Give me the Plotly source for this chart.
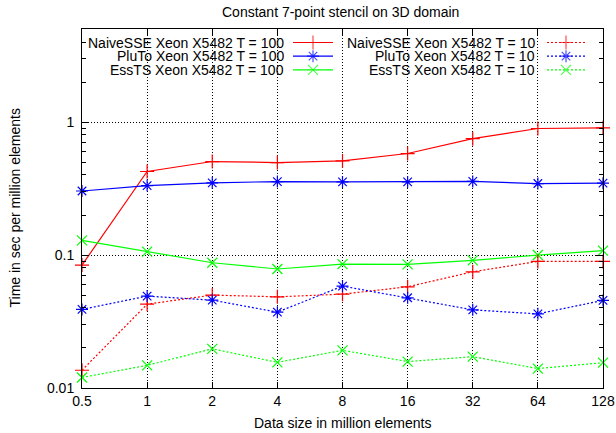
import plotly.graph_objects as go

sizes = ["0.5", "1", "2", "4", "8", "16", "32", "64", "128"]

naive_t100 = [0.084, 0.425, 0.505, 0.496, 0.51, 0.58, 0.75, 0.895, 0.905]
pluto_t100 = [0.303, 0.333, 0.349, 0.357, 0.355, 0.355, 0.358, 0.345, 0.347]
essts_t100 = [0.129, 0.106, 0.0875, 0.0785, 0.0855, 0.085, 0.0912, 0.100, 0.108]
naive_t10 = [0.0136, 0.0427, 0.050, 0.0485, 0.0508, 0.0577, 0.0748, 0.0896, 0.0896]
pluto_t10 = [0.039, 0.0491, 0.0458, 0.0372, 0.0584, 0.0477, 0.0387, 0.0361, 0.0456]
essts_t10 = [0.012, 0.0148, 0.0197, 0.0156, 0.0192, 0.0158, 0.0172, 0.0140, 0.0155]

names = [
    "NaiveSSE Xeon X5482 T = 100", "PluTo Xeon X5482 T = 100", "EssTS Xeon X5482 T = 100",
    "NaiveSSE Xeon X5482 T = 10", "PluTo Xeon X5482 T = 10", "EssTS Xeon X5482 T = 10",
]
series = [naive_t100, pluto_t100, essts_t100, naive_t10, pluto_t10, essts_t10]
colors = ["#ff0000", "#0000ff", "#00ff00", "#ff0000", "#0000ff", "#00ff00"]
symbols = ["cross-thin-open", "asterisk-open", "x-thin-open"] * 2
dashes = ["solid"] * 3 + ["2px,2px"] * 3

FONT = "Liberation Sans, Arial, sans-serif"
FS = 14
fig = go.Figure()

xidx = list(range(len(sizes)))
for nm, ys, c, s, d in zip(names, series, colors, symbols, dashes):
    fig.add_trace(go.Scatter(
        x=xidx, y=ys, mode="lines+markers", name=nm,
        line=dict(color=c, width=1.2, dash=d),
        marker=dict(symbol=s, size=10, line=dict(color=c, width=1.2)),
        cliponaxis=False, showlegend=False, hoverinfo="skip",
    ))

# gnuplot-style key (text right-aligned, sample to the right), placed in pixel coords via overlay axes
rows_y = [42.5, 56.2, 69.9]
cols = [(286, 293, 313, 333), (537, 547, 566, 585)]
annotations = []
for i, (nm, c, s, d) in enumerate(zip(names, colors, symbols, dashes)):
    col = cols[i // 3]
    ry = rows_y[i % 3]
    fig.add_trace(go.Scatter(
        x=[col[1], col[2], col[3]], y=[ry, ry, ry], xaxis="x2", yaxis="y2",
        mode="lines+markers", line=dict(color=c, width=1.2, dash=d),
        marker=dict(symbol=s, size=[0, 10, 0], line=dict(color=c, width=1.2)),
        showlegend=False, hoverinfo="skip", cliponaxis=False,
    ))
    annotations.append(dict(
        x=col[0], y=ry, xref="x2", yref="y2", text=nm, showarrow=False,
        xanchor="right", yanchor="middle", font=dict(family=FONT, size=FS, color="black"),
    ))

# title and axis titles (paper coords with pixel shifts)
annotations += [
    dict(x=0.497, y=1, xref="paper", yref="paper", yshift=17,
         text="Constant 7-point stencil on 3D domain",
         showarrow=False, xanchor="center", yanchor="middle",
         font=dict(family=FONT, size=FS, color="black")),
    dict(x=0.5, y=0, xref="paper", yref="paper", yshift=-35,
         text="Data size in million elements",
         showarrow=False, xanchor="center", yanchor="middle",
         font=dict(family=FONT, size=FS, color="black")),
    dict(x=0, y=0.5, xref="paper", yref="paper", xshift=-68,
         text="Time in sec per million elements",
         showarrow=False, xanchor="center", yanchor="middle", textangle=-90,
         font=dict(family=FONT, size=FS, color="black")),
]

minor_vals = [k * 10 ** e for e in (-2, -1, 0) for k in range(2, 10) if k * 10 ** e <= 5]

grid = dict(showgrid=True, gridcolor="black", griddash="1px,2px", gridwidth=1)

fig.update_layout(
    width=616, height=433,
    margin=dict(l=82, r=13, t=29, b=45, autoexpand=False),
    paper_bgcolor="white", plot_bgcolor="white",
    font=dict(family=FONT, size=FS, color="black"),
    xaxis=dict(
        tickmode="array", tickvals=xidx, ticktext=sizes, range=[0, len(sizes) - 1],
        showline=True, linecolor="black", linewidth=1, mirror="ticks",
        ticks="inside", ticklen=6, tickcolor="black", zeroline=False,
        automargin=False, ticklabelstandoff=0, **grid,
    ),
    yaxis=dict(
        type="log", range=[-2, 0.7],
        tickmode="array", tickvals=[0.01, 0.1, 1], ticktext=["0.01", "0.1", "1"],
        showline=True, linecolor="black", linewidth=1, mirror="ticks",
        ticks="inside", ticklen=7, tickcolor="black", zeroline=False,
        minor=dict(tickmode="array", tickvals=minor_vals, ticks="inside", ticklen=4,
                   tickcolor="black", showgrid=False),
        automargin=False, ticklabelstandoff=4, **grid,
    ),
    yaxis3=dict(
        type="log", range=[-2, 0.7], overlaying="y", side="right",
        tickmode="array", tickvals=minor_vals, ticks="inside", ticklen=4,
        tickcolor="black", showticklabels=False, showgrid=False, zeroline=False,
        showline=False, automargin=False, fixedrange=True,
    ),
    xaxis2=dict(overlaying="x", range=[82, 603], visible=False, fixedrange=True, automargin=False),
    yaxis2=dict(overlaying="y", range=[388, 29], visible=False, fixedrange=True, automargin=False),
    annotations=annotations,
)

# invisible trace so the right-side minor tick axis is drawn
fig.add_trace(go.Scatter(x=[0], y=[1], xaxis="x", yaxis="y3", mode="markers",
                         marker=dict(opacity=0), showlegend=False, hoverinfo="skip"))

fig.write_html("out.html", config={"displayModeBar": False},
               post_script="document.body.style.margin='0';")
